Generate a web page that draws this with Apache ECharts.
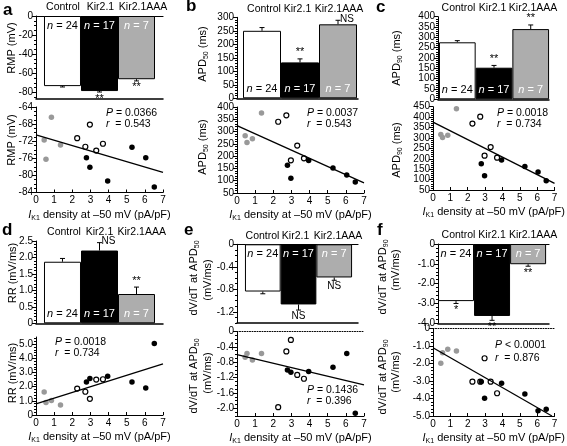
<!DOCTYPE html>
<html><head><meta charset="utf-8">
<script src="https://cdn.jsdelivr.net/npm/echarts@6/dist/echarts.min.js"></script>
<style>html,body{margin:0;padding:0;background:#fff}#c{width:567px;height:446px}</style>
</head><body><div id="c"></div>
<script>
// ================= DATA =================
const groups = ['Control', 'Kir2.1', 'Kir2.1AAA'];
const nCells = [24, 17, 7];

// bar panels: mean, SEM, significance
const rmpMean = [-73.5, -78.7, -66.3];
const rmpSem = [0.9, 1.0, 1.8];
const rmpSig = ['', '**', '**'];
const apd50Mean = [250, 133, 274];
const apd50Sem = [12, 13, 15];
const apd50Sig = ['', '**', 'NS'];
const apd90Mean = [276, 153, 340];
const apd90Sem = [8, 11, 20];
const apd90Sig = ['', '**', '**'];
const rrMean = [1.87, 2.21, 0.89];
const rrSem = [0.1, 0.24, 0.21];
const rrSig = ['', 'NS', '**'];
const dv50Mean = [-0.84, -1.07, -0.59];
const dv50Sem = [0.04, 0.1, 0.05];
const dv50Sig = ['', 'NS', 'NS'];
const dv90Mean = [-2.88, -3.63, -1.02];
const dv90Sem = [0.12, 0.22, 0.1];
const dv90Sig = ['*', '**', '**'];

// IK1 density (pA/pF) of individual cells, by marker type
const grayX = [0.45, 0.55, 0.85, 1.35];
const openX = [2.27, 2.72, 2.97, 3.32, 3.69];
const blackX = [2.78, 2.97, 3.95, 5.29, 6.05, 6.52];

const rmpGray = [-71.7, -76.2, -66.4, -72.9];
const rmpOpen = [-71.3, -73.3, -68.1, -74.2, -72.6];
const rmpBlack = [-75.9, -78.1, -81.3, -73.4, -75.9, -82.7];
const apd50Gray = [283, 256, 271, 376];
const apd50Open = [340, 366, 183, 243, 191];
const apd50Black = [163, 110, 182, 152, 123, 95];
const apd90Gray = [316, 302, 313, 440];
const apd90Open = [369, 402, 215, 256, 205];
const apd90Black = [176, 118, 194, 163, 136, 95];
const rrGray = [1.62, 0.88, 1.02, 0.71];
const rrOpen = [1.86, 1.64, 1.14, 2.5, 2.52];
const rrBlack = [2.33, 2.57, 2.74, 2.33, 1.9, 5.05];
const dv50Gray = [-0.67, -0.57, -0.74, -0.57];
const dv50Open = [-1.97, -0.52, -0.22, -1.13, -1.23];
const dv50Black = [-1.0, -1.06, -1.04, -0.93, -0.57, -2.13];
const dv90Gray = [-1.99, -1.38, -1.19, -1.29];
const dv90Open = [-3.04, -3.04, -1.7, -3.04, -3.7];
const dv90Black = [-3.04, -3.99, -3.13, -3.74, -4.7, -4.62];

// regression line end points [x, y]
const rmpFit = [[0, -70.5], [7, -79.3]];
const apd50Fit = [[0, 324], [7, 91]];
const apd90Fit = [[0, 376], [7, 82]];
const rrFit = [[0, 0.79], [7, 3.6]];
const dv50Fit = [[0, -0.6], [7, -1.39]];
const dv90Fit = [[0, -1.1], [6.85, -5.0]];

// statistics text
const rmpStats = ['=', '0.0366', '0.543'];
const apd50Stats = ['=', '0.0037', '0.543'];
const apd90Stats = ['=', '0.0018', '0.734'];
const rrStats = ['=', '0.0018', '0.734'];
const dv50Stats = ['=', '0.1436', '0.396'];
const dv90Stats = ['<', '0.0001', '0.876'];

// ================= LAYOUT / STYLE =================
const FONT = "'Liberation Sans', Arial, Helvetica, sans-serif";
const fills = ['#ffffff', '#000000', '#adadad'];
const nColors = ['#000000', '#ffffff', '#ffffff'];

function ticks(a, b, s) { const r = []; const n = Math.round((b - a) / s); for (let i = 0; i <= n; i++) r.push(+(a + i * s).toFixed(6)); return r; }
function fmt(dec) { return v => (Math.abs(v) < 1e-9 ? '0' : (+v).toFixed(dec)); }

const grids = [], xAxes = [], yAxes = [], series = [], graphics = [];

function yAxisPair(g, min, max, major, minor, f) {
  const i = yAxes.length;
  yAxes.push({type: 'value', gridIndex: g, min, max, position: 'left',
    axisLine: {show: true, onZero: false, lineStyle: {color: '#000', width: 1}},
    axisTick: {show: true, customValues: major, length: 4, lineStyle: {color: '#000'}},
    axisLabel: {show: true, customValues: major, formatter: f, color: '#000', fontSize: 10, margin: 3, fontFamily: FONT, hideOverlap: false},
    splitLine: {show: false}});
  yAxes.push({type: 'value', gridIndex: g, min, max, position: 'left',
    axisLine: {show: false, onZero: false}, axisLabel: {show: false},
    axisTick: {show: true, customValues: minor, length: 2, lineStyle: {color: '#000'}},
    splitLine: {show: false}});
  return i;
}

function addBar(p, L) {
  const g = grids.length;
  grids.push({left: L.l, top: L.t, width: L.r - L.l, height: L.b - L.t});
  const xb = xAxes.length;
  xAxes.push({type: 'value', gridIndex: g, min: L.xmin, max: L.xmax, position: 'bottom',
    axisLine: {show: true, onZero: false, lineStyle: {color: '#000', width: 1.5}},
    axisTick: {show: false}, axisLabel: {show: false}, splitLine: {show: false}});
  xAxes.push({type: 'value', gridIndex: g, min: L.xmin, max: L.xmax, position: 'top',
    axisLine: {show: L.neg, onZero: false, lineStyle: {color: '#000', width: 1.2}},
    axisTick: {show: false},
    axisLabel: {show: true, customValues: L.lab, formatter: v => groups[Math.round(v) - 1], color: '#000', fontSize: 10.5, margin: 3,
      fontFamily: FONT, hideOverlap: false, showMinLabel: true, showMaxLabel: true},
    splitLine: {show: false}});
  const ya = yAxisPair(g, L.ymin, L.ymax, L.major, L.minor, L.fmt);
  series.push({type: 'bar', xAxisIndex: xb, yAxisIndex: ya, barWidth: L.w, silent: true, animation: false,
    data: p.mean.map((v, i) => ({value: [i + 1, v], itemStyle: {color: fills[i]}, label: {color: nColors[i]}})),
    itemStyle: {borderColor: '#000', borderWidth: 1},
    label: {show: true, position: L.neg ? 'insideTop' : 'insideBottom', distance: 4,
      formatter: q => '{i|n} = ' + nCells[q.dataIndex], fontSize: 11, fontFamily: FONT,
      rich: {i: {fontStyle: 'italic', fontSize: 11, fontFamily: FONT}}}});
  series.push({type: 'custom', xAxisIndex: xb, yAxisIndex: ya, silent: true, animation: false, clip: false,
    data: p.mean.map((v, i) => [i + 1, v, v < 0 ? v - p.sem[i] : v + p.sem[i]]),
    encode: {x: 0, y: [1, 2]},
    renderItem: (params, api) => {
      const x = api.value(0), v = api.value(1), e = api.value(2);
      const a = api.coord([x, v]), b = api.coord([x, e]);
      const up = e > v; const s = p.sig[params.dataIndex];
      const ch = [
        {type: 'line', shape: {x1: a[0], y1: a[1], x2: b[0], y2: b[1]}, style: {stroke: '#000', lineWidth: 1}},
        {type: 'line', shape: {x1: b[0] - 2.5, y1: b[1], x2: b[0] + 2.5, y2: b[1]}, style: {stroke: '#000', lineWidth: 1}}];
      if (s) {
        const side = s === 'NS' && up;
        ch.push({type: 'text', x: side ? b[0] + 2 : b[0], y: side ? b[1] - 1 : (up ? b[1] - 1 : b[1] + 1),
          style: {text: s, align: side ? 'left' : 'center', verticalAlign: side ? 'middle' : (up ? 'bottom' : 'top'),
            fontSize: s === 'NS' ? 10 : 11, fontFamily: FONT, fill: '#000'}});
      }
      return {type: 'group', children: ch};
    }});
}

const xName = '{i|I}{s|K1}{t| density at \u201350 mV (pA/pF)}';
function addScatter(p, L) {
  const g = grids.length;
  grids.push({left: L.l, top: L.t, width: L.r - L.l, height: L.b - L.t});
  const xa = xAxes.length;
  xAxes.push({type: 'value', gridIndex: g, min: 0, max: 7, interval: 1, position: 'bottom',
    axisLine: {show: true, onZero: false, lineStyle: {color: '#000', width: 1}},
    axisTick: {show: true, inside: true, length: 3, lineStyle: {color: '#000'}},
    axisLabel: {show: true, color: '#000', fontSize: 10, margin: 3, fontFamily: FONT},
    splitLine: {show: false},
    name: xName, nameLocation: 'middle', nameGap: 15,
    nameTextStyle: {color: '#000', fontFamily: FONT, fontSize: 11,
      rich: {i: {fontStyle: 'italic', fontSize: 11, fontFamily: FONT, lineHeight: 14},
             s: {fontSize: 7, fontFamily: FONT, verticalAlign: 'bottom'},
             t: {fontSize: 11, fontFamily: FONT, lineHeight: 14}}}});
  if (L.topLine) {
    xAxes.push({type: 'value', gridIndex: g, min: 0, max: 7, position: 'top',
      axisLine: {show: true, onZero: false, lineStyle: {color: '#000', width: 1, type: [1, 1.5]}},
      axisTick: {show: false}, axisLabel: {show: false}, splitLine: {show: false}});
  }
  const ya = yAxisPair(g, L.ymin, L.ymax, L.major, L.minor, L.fmt);
  series.push({type: 'line', xAxisIndex: xa, yAxisIndex: ya, data: p.fit, symbol: 'none', silent: true, animation: false,
    lineStyle: {color: '#000', width: 1.3}});
  series.push({type: 'scatter', xAxisIndex: xa, yAxisIndex: ya, silent: true, animation: false, symbolSize: 5.5,
    data: grayX.map((x, i) => [x, p.gray[i]]), itemStyle: {color: '#999999', opacity: 1}});
  series.push({type: 'scatter', xAxisIndex: xa, yAxisIndex: ya, silent: true, animation: false, symbolSize: 5,
    data: openX.map((x, i) => [x, p.open[i]]), itemStyle: {color: '#ffffff', borderColor: '#000', borderWidth: 1.2, opacity: 1}});
  series.push({type: 'scatter', xAxisIndex: xa, yAxisIndex: ya, silent: true, animation: false, symbolSize: 5.5,
    data: blackX.map((x, i) => [x, p.black[i]]), itemStyle: {color: '#000000', opacity: 1}});
  const rich = {i: {fontStyle: 'italic', fontSize: 10.5, fontFamily: FONT, fill: '#000'}, t: {fontSize: 10.5, fontFamily: FONT, fill: '#000'}};
  graphics.push({type: 'text', x: L.sx, y: L.sy, style: {text: '{i|P}{t| ' + p.stats[0] + ' ' + p.stats[1] + '}', rich,
    fontSize: 10.5, fontFamily: FONT, fill: '#000', verticalAlign: 'middle'}});
  graphics.push({type: 'text', x: L.sx, y: L.sy + L.sdy, style: {text: '{i|r}{t|  = ' + p.stats[2] + '}', rich,
    fontSize: 10.5, fontFamily: FONT, fill: '#000', verticalAlign: 'middle'}});
}

function yName(x, y, text, rich) {
  graphics.push({type: 'text', x, y, rotation: Math.PI / 2,
    style: {text, rich: rich || {}, fontSize: 11, fontFamily: FONT, fill: '#000', align: 'center', verticalAlign: 'middle'}});
}
const subRich = {a: {fontSize: 11, fontFamily: FONT, lineHeight: 14}, s: {fontSize: 7, fontFamily: FONT, verticalAlign: 'bottom'}};
function letter(x, y, t) {
  graphics.push({type: 'text', x, y, style: {text: t, fontSize: 17, fontWeight: 'bold', fontFamily: FONT, fill: '#000', align: 'left', verticalAlign: 'bottom'}});
}

// ---- panel a ----
addBar({mean: rmpMean, sem: rmpSem, sig: rmpSig},
  {l: 36, r: 163, t: 16, b: 98.5, xmin: 0.284, xmax: 3.716, w: 37, neg: true, ymin: -86.5, ymax: 0, lab: [1.014, 2.027, 3.176],
   major: ticks(-80, 0, 20), minor: ticks(-85, 0, 5), fmt: fmt(0)});
addScatter({gray: rmpGray, open: rmpOpen, black: rmpBlack, fit: rmpFit, stats: rmpStats},
  {l: 36, r: 163, t: 107, b: 192.5, ymin: -84, ymax: -64, major: ticks(-84, -64, 4), minor: ticks(-84, -64, 1), fmt: fmt(0), sx: 106, sy: 113, sdy: 11});
// ---- panel b ----
addBar({mean: apd50Mean, sem: apd50Sem, sig: apd50Sig},
  {l: 237, r: 358, t: 17.3, b: 98.3, xmin: 0.342, xmax: 3.526, w: 38, neg: false, ymin: 0, ymax: 300, lab: [1.053, 1.934, 3.026],
   major: ticks(0, 300, 50), minor: ticks(0, 300, 10), fmt: fmt(0)});
addScatter({gray: apd50Gray, open: apd50Open, black: apd50Black, fit: apd50Fit, stats: apd50Stats},
  {l: 237, r: 364, t: 107, b: 193, ymin: 50, ymax: 400, major: ticks(50, 400, 50), minor: ticks(50, 400, 10), fmt: fmt(0), sx: 307, sy: 113, sdy: 11});
// ---- panel c ----
addBar({mean: apd90Mean, sem: apd90Sem, sig: apd90Sig},
  {l: 438, r: 549, t: 16.7, b: 99.3, xmin: 0.474, xmax: 3.498, w: 36.7, neg: false, ymin: 0, ymax: 400, lab: [1.033, 1.959, 3.063],
   major: ticks(0, 400, 50), minor: ticks(0, 400, 10), fmt: fmt(0)});
addScatter({gray: apd90Gray, open: apd90Open, black: apd90Black, fit: apd90Fit, stats: apd90Stats},
  {l: 433, r: 558, t: 106.7, b: 190, ymin: 50, ymax: 450, major: ticks(50, 450, 50), minor: ticks(50, 450, 10), fmt: fmt(0), sx: 497, sy: 113, sdy: 11});
// ---- panel d ----
addBar({mean: rrMean, sem: rrSem, sig: rrSig},
  {l: 36, r: 163, t: 241, b: 323.3, xmin: 0.284, xmax: 3.716, w: 37, neg: false, ymin: 0, ymax: 2.5, lab: [1.041, 2.0, 3.141],
   major: ticks(0, 2.5, 0.5), minor: ticks(0, 2.5, 0.1), fmt: fmt(1)});
addScatter({gray: rrGray, open: rrOpen, black: rrBlack, fit: rrFit, stats: rrStats},
  {l: 36, r: 163, t: 337, b: 415, ymin: 0, ymax: 5.5, major: ticks(0, 5, 1), minor: ticks(0, 5.4, 0.2), fmt: fmt(1), sx: 55, sy: 342, sdy: 11.5});
// ---- panel e ----
addBar({mean: dv50Mean, sem: dv50Sem, sig: dv50Sig},
  {l: 237, r: 358, t: 244.3, b: 323, xmin: 0.277, xmax: 3.666, w: 35.7, neg: true, ymin: -1.4, ymax: 0, lab: [0.991, 1.916, 3.106],
   major: ticks(-1.2, 0, 0.4), minor: ticks(-1.4, 0, 0.1), fmt: fmt(1)});
addScatter({gray: dv50Gray, open: dv50Open, black: dv50Black, fit: dv50Fit, stats: dv50Stats},
  {l: 237, r: 364, t: 331.5, b: 416, ymin: -2.2, ymax: 0, topLine: true, major: ticks(-2.0, 0, 0.4), minor: ticks(-2.2, 0, 0.1), fmt: fmt(1), sx: 307, sy: 390, sdy: 11});
// ---- panel f ----
addBar({mean: dv90Mean, sem: dv90Sem, sig: dv90Sig},
  {l: 438, r: 549, t: 244, b: 323.3, xmin: 0.5, xmax: 3.58, w: 36, neg: true, ymin: -4, ymax: 0, lab: [1.069, 2.0, 3.139],
   major: ticks(-4, 0, 1), minor: ticks(-4, 0, 0.2), fmt: fmt(1)});
addScatter({gray: dv90Gray, open: dv90Open, black: dv90Black, fit: dv90Fit, stats: dv90Stats},
  {l: 433, r: 558, t: 328.5, b: 416, ymin: -5, ymax: 0, topLine: true, major: ticks(-5, 0, 1), minor: ticks(-5, 0, 0.2), fmt: fmt(1), sx: 495, sy: 345, sdy: 13});

// ---- axis titles and panel letters ----
yName(12, 48, 'RMP (mV)');
yName(12, 140, 'RMP (mV)');
yName(203, 54, '{a|APD}{s|50}{a| (ms)}', subRich);
yName(203, 147, '{a|APD}{s|50}{a| (ms)}', subRich);
yName(397, 58, '{a|APD}{s|90}{a| (ms)}', subRich);
yName(397, 150, '{a|APD}{s|90}{a| (ms)}', subRich);
yName(13, 273, 'RR (mV/ms)');
yName(13, 373, 'RR (mV/ms)');
yName(194, 278, '{a|dV/dT at APD}{s|50}', subRich);
yName(208, 280, '(mV/ms)');
yName(194, 376, '{a|dV/dT at APD}{s|50}', subRich);
yName(208, 373, '(mV/ms)');
yName(383, 277, '{a|dV/dT at APD}{s|90}', subRich);
yName(396, 270, '(mV/ms)');
yName(383, 377, '{a|dV/dT at APD}{s|90}', subRich);
yName(396, 372, '(mV/ms)');
letter(3, 19, 'a');
letter(186, 15, 'b');
letter(376, 16, 'c');
letter(2, 239, 'd');
letter(184, 239, 'e');
letter(377, 239, 'f');

const chart = echarts.init(document.getElementById('c'), null, {renderer: 'canvas'});
chart.setOption({animation: false, textStyle: {fontFamily: FONT}, grid: grids, xAxis: xAxes, yAxis: yAxes, series, graphic: graphics});
</script>
</body></html>
